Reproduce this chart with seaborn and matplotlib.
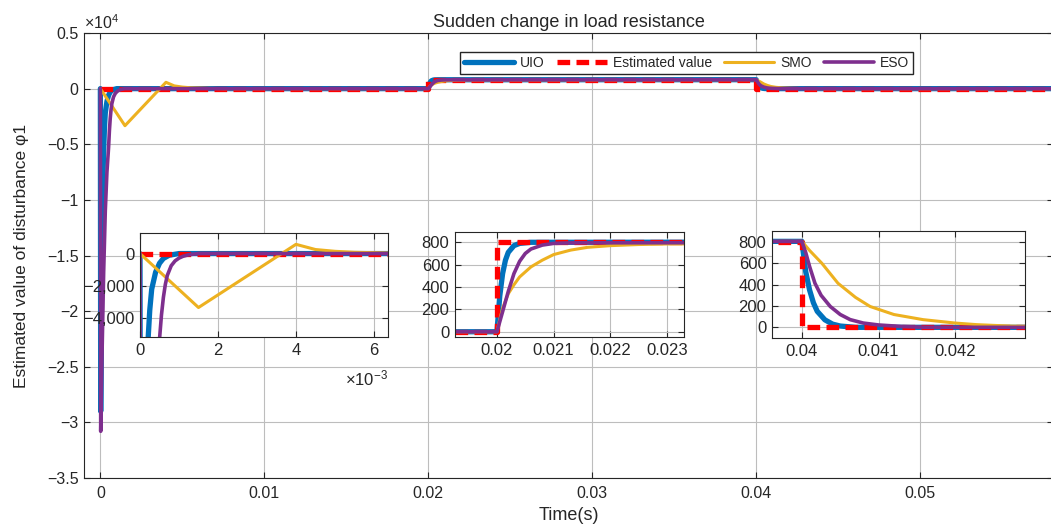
import matplotlib
matplotlib.use('Agg')
import matplotlib.pyplot as plt
import seaborn as sns
import pandas as pd
import numpy as np
from matplotlib.ticker import FuncFormatter

# values, time in ms
uio_t = [0, 0.02, 0.05, 0.1, 0.15, 0.2, 0.25, 0.3, 0.4, 0.5, 0.6, 0.75, 1.0,
         20.0, 20.05, 20.1, 20.15, 20.2, 20.3, 20.4, 20.6, 20.8,
         40.0, 40.05, 40.1, 40.15, 40.2, 40.3, 40.4, 40.5, 40.7, 58.5]
uio_y = [0, -29000, -20000, -12500, -8300, -5600, -3500, -2200, -1150, -600, -300, -100, 0,
         0, 320, 520, 640, 710, 770, 790, 800, 800,
         805, 520, 350, 230, 150, 70, 30, 12, 0, 0]

est_t = [0, 20.0, 20.0, 40.0, 40.0, 58.5]
est_y = [0, 0, 800, 800, 0, 0]

smo_t = [0, 1.5, 4.0, 4.5, 5.0, 5.5, 6.5, 7.5,
         20.0, 20.05, 20.1, 20.2, 20.3, 20.4, 20.6, 20.8, 21.0, 21.3, 21.6, 22.0, 22.5, 23.0,
         40.0, 40.1, 40.26, 40.47, 40.7, 40.89, 41.2, 41.58, 42.0, 42.28, 42.7, 43.2, 44.0, 58.5]
smo_y = [0, -3330, 570, 250, 140, 80, 30, 0,
         0, 110, 210, 340, 420, 490, 580, 640, 690, 730, 755, 770, 780, 785,
         805, 720, 600, 413, 280, 195, 120, 72, 40, 25, 12, 5, 0, 0]

eso_t = [0, 0.02, 0.1, 0.2, 0.3, 0.4, 0.5, 0.55, 0.6, 0.65, 0.7, 0.8, 0.9, 1.0, 1.1, 1.25, 1.5,
         20.0, 20.1, 20.2, 20.3, 20.4, 20.5, 20.6, 20.8, 21.0, 21.3,
         40.0, 40.05, 40.1, 40.17, 40.25, 40.37, 40.5, 40.63, 40.8, 41.0, 41.3, 41.6, 58.5]
eso_y = [0, -30800, -24000, -16500, -11000, -7500, -5300, -3800, -2700, -1900, -1350, -750, -450, -280, -170, -70, 0,
         0, 180, 360, 520, 630, 700, 740, 775, 790, 795,
         805, 700, 570, 413, 300, 195, 120, 72, 40, 22, 8, 0, 0]

names = ['UIO', 'Estimated value', 'SMO', 'ESO']
times = [uio_t, est_t, smo_t, eso_t]
vals = [uio_y, est_y, smo_y, eso_y]
colors = ['#0072BD', '#FF0000', '#EDB120', '#7E2F8E']
widths = [3.8, 3.8, 2.2, 2.6]
styles = ['-', (0, (2.4, 1.2)), '-', '-']

sns.set_style("whitegrid", {'axes.edgecolor': '#262626', 'grid.color': '#bdbdbd',
                            'xtick.direction': 'in', 'ytick.direction': 'in',
                            'xtick.bottom': True, 'ytick.left': True,
                            'xtick.top': True, 'ytick.right': True})
plt.rcParams['font.family'] = ['Liberation Sans', 'DejaVu Sans']
plt.rcParams['mathtext.fontset'] = 'custom'
plt.rcParams['mathtext.rm'] = 'Liberation Sans'
plt.rcParams['text.color'] = '#262626'
plt.rcParams['xtick.color'] = '#262626'
plt.rcParams['ytick.color'] = '#262626'


def fmt(scale=1.0, comma=False):
    if comma:
        return FuncFormatter(lambda v, p: f'{v * scale:,.0f}'.replace('-', '\u2212'))
    return FuncFormatter(lambda v, p: f'{v * scale:g}'.replace('-', '\u2212'))


def draw(ax, size, legend=False):
    for name, t, y, c, w, s in zip(names, times, vals, colors, widths, styles):
        df = pd.DataFrame({'Time': np.array(t) / 1000.0, 'value': y})
        sns.lineplot(data=df, x='Time', y='value', ax=ax, color=c, linewidth=w,
                     linestyle=s, estimator=None, sort=False,
                     label=name if legend else None, legend=False)
    ax.set_xlabel('')
    ax.set_ylabel('')
    ax.grid(True, color='#bdbdbd', linewidth=0.8)
    for sp in ax.spines.values():
        sp.set_color('#262626')
        sp.set_linewidth(0.8)
    ax.tick_params(direction='in', length=4, width=0.8, labelsize=size,
                   top=True, right=True, pad=4)


fig = plt.figure(figsize=(10.51, 5.25), dpi=100)

# main axes
ax = fig.add_axes([0.0799, 0.0895, 0.922, 0.8476])
draw(ax, 11.5, legend=True)
ax.set_xlim(-0.001, 0.0581)
ax.set_ylim(-35000, 5000)
ax.set_xticks([0, 0.01, 0.02, 0.03, 0.04, 0.05])
ax.set_yticks(np.arange(-35000, 5001, 5000))
ax.xaxis.set_major_formatter(fmt())
ax.yaxis.set_major_formatter(fmt(1e-4))
ax.tick_params(axis='x', pad=6)
ax.text(0.0, 1.003, r'$\mathregular{\times10^{4}}$', transform=ax.transAxes,
        ha='left', va='bottom', fontsize=11.5)
ax.set_title('Sudden change in load resistance', fontsize=13, pad=4)
ax.set_xlabel('Time(s)', fontsize=13, labelpad=4)
ax.set_ylabel('Estimated value of disturbance φ1', fontsize=12.5, labelpad=13)
ax.legend(ncol=4, loc='upper right', bbox_to_anchor=(913 / 1051, 1 - 52 / 525),
          bbox_transform=fig.transFigure, fontsize=10, frameon=True,
          fancybox=False, framealpha=1, edgecolor='#262626', handlelength=3.6,
          columnspacing=0.9, handletextpad=0.4, borderpad=0.3, borderaxespad=0)

# inset 1: start-up
a1 = fig.add_axes([140 / 1051, 1 - 337 / 525, 248 / 1051, 104 / 525])
draw(a1, 12)
a1.set_xlim(0, 0.00636)
a1.set_ylim(-5150, 1270)
a1.set_xticks([0, 0.002, 0.004, 0.006])
a1.set_yticks([-4000, -2000, 0])
a1.xaxis.set_major_formatter(fmt(1e3))
a1.yaxis.set_major_formatter(fmt(comma=True))
a1.text(1.0, -0.3, r'$\mathregular{\times10^{-3}}$', transform=a1.transAxes,
        ha='right', va='top', fontsize=12)

# inset 2: load step at 0.02 s
a2 = fig.add_axes([455 / 1051, 1 - 337 / 525, 229 / 1051, 105 / 525])
draw(a2, 12)
a2.set_xlim(0.01926, 0.0233)
a2.set_ylim(-47, 892)
a2.set_xticks([0.02, 0.021, 0.022, 0.023])
a2.set_yticks([0, 200, 400, 600, 800])
a2.xaxis.set_major_formatter(fmt())
a2.yaxis.set_major_formatter(fmt())

# inset 3: load step at 0.04 s
a3 = fig.add_axes([772 / 1051, 1 - 338 / 525, 253 / 1051, 107 / 525])
draw(a3, 12)
a3.set_xlim(0.03961, 0.04291)
a3.set_ylim(-100, 902)
a3.set_xticks([0.04, 0.041, 0.042])
a3.set_yticks([0, 200, 400, 600, 800])
a3.xaxis.set_major_formatter(fmt())
a3.yaxis.set_major_formatter(fmt())

fig.savefig('out.png', dpi=100)
